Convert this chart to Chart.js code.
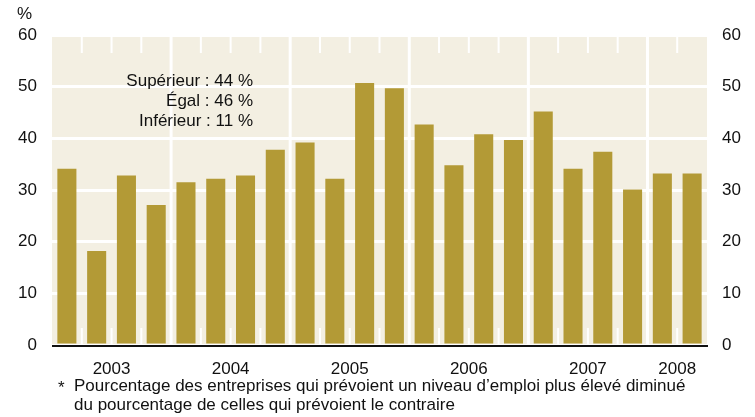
<!DOCTYPE html>
<html>
<head>
<meta charset="utf-8">
<script src="https://cdn.jsdelivr.net/npm/chart.js@4"></script>
<style>
  body { margin: 0; background: #fff; }
  canvas { display: block; }
</style>
</head>
<body>
<canvas id="chart" width="755" height="417"></canvas>
<script>
// trimestres 2003 T1 -> 2008 T2
const quarters = [
  '2003 T1', '2003 T2', '2003 T3', '2003 T4',
  '2004 T1', '2004 T2', '2004 T3', '2004 T4',
  '2005 T1', '2005 T2', '2005 T3', '2005 T4',
  '2006 T1', '2006 T2', '2006 T3', '2006 T4',
  '2007 T1', '2007 T2', '2007 T3', '2007 T4',
  '2008 T1', '2008 T2'
];
const values = [
  34.1, 18.2, 32.8, 27.1,
  31.5, 32.2, 32.8, 37.8,
  39.2, 32.2, 50.7, 49.7,
  42.7, 34.8, 40.8, 39.7,
  45.2, 34.1, 37.4, 30.1,
  33.2, 33.2
];
const yTicks = [0, 10, 20, 30, 40, 50, 60];
const notes = ['Supérieur : 44 %', 'Égal : 46 %', 'Inférieur : 11 %'];
const footnote = [
  'Pourcentage des entreprises qui prévoient un niveau d’emploi plus élevé diminué',
  'du pourcentage de celles qui prévoient le contraire'
];

// années et centres de groupe, tirés des libellés trimestriels
const years = [];
const yearIdx = {};
quarters.forEach((q, i) => {
  const y = q.slice(0, 4);
  if (!(y in yearIdx)) { yearIdx[y] = []; years.push(y); }
  yearIdx[y].push(i);
});
const yearCenters = years.map(y => {
  const idx = yearIdx[y];
  return (idx[0] + idx[idx.length - 1]) / 2;
});

const FONT = "'Liberation Sans', Arial, Helvetica, sans-serif";
Chart.defaults.font.family = FONT;
Chart.defaults.color = '#111';

const decor = {
  id: 'decor',
  beforeDraw(chart) {
    const { ctx, chartArea: a } = chart;
    ctx.save();
    ctx.fillStyle = '#f3efe2';
    ctx.fillRect(a.left, a.top, a.right - a.left, a.bottom - a.top);
    ctx.restore();
  },
  beforeDatasetsDraw(chart) {
    const { ctx, chartArea: a, scales: { x } } = chart;
    ctx.save();
    ctx.strokeStyle = '#fff';
    for (let i = 0; i < quarters.length - 1; i++) {
      const px = (x.getPixelForValue(i) + x.getPixelForValue(i + 1)) / 2;
      const newYear = quarters[i].slice(0, 4) !== quarters[i + 1].slice(0, 4);
      ctx.beginPath();
      if (newYear) {
        ctx.lineWidth = 3;
        ctx.moveTo(px, a.top);
        ctx.lineTo(px, a.bottom);
      } else {
        ctx.lineWidth = 2;
        ctx.moveTo(px, a.top);
        ctx.lineTo(px, a.top + 18);
        ctx.moveTo(px, a.bottom - 17);
        ctx.lineTo(px, a.bottom);
      }
      ctx.stroke();
    }
    ctx.restore();
  },
  afterDraw(chart) {
    const { ctx, chartArea: a } = chart;
    ctx.save();
    // axe horizontal
    ctx.strokeStyle = '#111';
    ctx.lineWidth = 2;
    ctx.beginPath();
    ctx.moveTo(a.left, a.bottom + 1);
    ctx.lineTo(a.right + 1, a.bottom + 1);
    ctx.stroke();

    ctx.fillStyle = '#111';
    ctx.font = '17px ' + FONT;
    ctx.textBaseline = 'middle';
    ctx.textAlign = 'left';
    ctx.fillText('%', 17, 14);

    ctx.textAlign = 'right';
    notes.forEach((t, i) => ctx.fillText(t, 253, 81 + i * 20));

    ctx.textAlign = 'left';
    ctx.fillText('*', 58, 388);
    footnote.forEach((t, i) => ctx.fillText(t, 74, 386 + i * 19));
    ctx.restore();
  }
};

new Chart(document.getElementById('chart').getContext('2d'), {
  type: 'bar',
  data: {
    labels: quarters,
    datasets: [{
      data: values,
      backgroundColor: '#b39a36',
      borderWidth: 0,
      barPercentage: 0.64,
      categoryPercentage: 1
    }]
  },
  options: {
    responsive: false,
    animation: false,
    layout: { padding: { top: 35, left: 0, right: 0, bottom: 0 } },
    plugins: { legend: { display: false }, tooltip: { enabled: false } },
    scales: {
      x: { display: false },
      xYear: {
        type: 'linear',
        position: 'bottom',
        offset: false,
        min: -0.5,
        max: quarters.length - 0.5,
        grid: { display: false, drawTicks: false, offset: false },
        border: { display: false },
        afterBuildTicks: s => { s.ticks = yearCenters.map(v => ({ value: v })); },
        afterFit: s => { s.height = 72; },
        ticks: {
          autoSkip: false,
          maxRotation: 0,
          padding: 14,
          font: { size: 17 },
          callback: (v, i) => years[i]
        }
      },
      y: {
        position: 'left',
        min: 0,
        max: 60,
        afterBuildTicks: s => { s.ticks = yTicks.map(v => ({ value: v })); },
        afterFit: s => { s.width = 52; },
        grid: { color: '#fff', lineWidth: 3, drawTicks: false },
        border: { display: false },
        ticks: { padding: 15, font: { size: 17 } }
      },
      y2: {
        position: 'right',
        min: 0,
        max: 60,
        afterBuildTicks: s => { s.ticks = yTicks.map(v => ({ value: v })); },
        afterFit: s => { s.width = 48; },
        grid: { display: false, drawTicks: false },
        border: { display: false },
        ticks: { padding: 15, font: { size: 17 } }
      }
    }
  },
  plugins: [decor]
});
</script>
</body>
</html>
